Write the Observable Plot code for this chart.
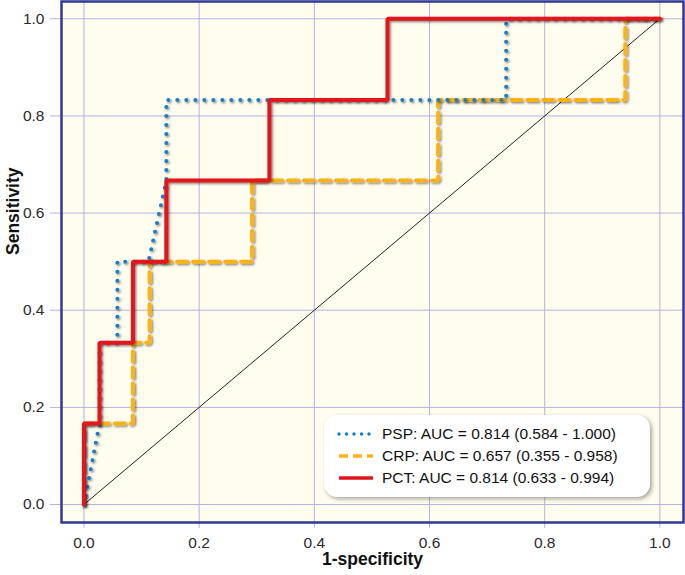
<!DOCTYPE html>
<html>
<head>
<meta charset="utf-8">
<script src="https://cdn.jsdelivr.net/npm/d3@7"></script>
<script src="https://cdn.jsdelivr.net/npm/@observablehq/plot@0.6"></script>
<style>
  html, body { margin: 0; padding: 0; background: #ffffff; }
  #wrap { position: relative; width: 685px; height: 575px; font-family: "Liberation Sans", Arial, sans-serif; }
  #legend {
    position: absolute; left: 324px; top: 415px; width: 326px; height: 82px;
    background: #ffffff; border-radius: 13px; box-shadow: 2px 2px 4px rgba(0,0,0,0.35);
    box-sizing: border-box; padding-top: 8px; padding-left: 13px;
  }
  .row { display: flex; align-items: center; height: 22px; font-size: 15.5px; color: #111; }
  .row svg { margin-right: 8px; }
</style>
</head>
<body>
<div id="wrap"></div>
<script>
// ---- data ----
const pspX = [0, 0.027, 0.027, 0.058, 0.058, 0.112, 0.143, 0.143, 0.733, 0.733, 1];
const pspY = [0, 0.167, 0.333, 0.333, 0.5, 0.5, 0.667, 0.833, 0.833, 1, 1];
const crpX = [0, 0, 0.085, 0.085, 0.114, 0.114, 0.292, 0.292, 0.615, 0.615, 0.94, 0.94, 1];
const crpY = [0, 0.167, 0.167, 0.333, 0.333, 0.5, 0.5, 0.667, 0.667, 0.833, 0.833, 1, 1];
const pctX = [0, 0, 0.027, 0.027, 0.085, 0.085, 0.143, 0.143, 0.322, 0.322, 0.527, 0.527, 1];
const pctY = [0, 0.167, 0.167, 0.333, 0.333, 0.5, 0.5, 0.667, 0.667, 0.833, 0.833, 1, 1];
const diagX = [0, 1];
const diagY = [0, 1];
const ticks = [0, 0.2, 0.4, 0.6, 0.8, 1.0];
const seriesNames = ["PSP", "CRP", "PCT"];
const legendLabels = [
  "PSP: AUC = 0.814 (0.584 - 1.000)",
  "CRP: AUC = 0.657 (0.355 - 0.958)",
  "PCT: AUC = 0.814 (0.633 - 0.994)"
];
const xTitle = "1-specificity";
const yTitle = "Sensitivity";

const colors = { PSP: "#1b7cc6", CRP: "#fbb216", PCT: "#e2121c" };
const toPts = (xs, ys) => xs.map((x, i) => ({ x, y: ys[i] }));
const psp = toPts(pspX, pspY), crp = toPts(crpX, crpY), pct = toPts(pctX, pctY);
const diag = toPts(diagX, diagY);

const chart = Plot.plot({
  width: 685,
  height: 575,
  marginLeft: 61,
  marginRight: 2,
  marginTop: 1,
  marginBottom: 53,
  style: { fontFamily: '"Liberation Sans", Arial, sans-serif', fontSize: "15px", background: "transparent", overflow: "visible" },
  x: { domain: [-0.039, 1.041] },
  y: { domain: [-0.037, 1.0356] },
  marks: [
    Plot.frame({ fill: "#fffdee", stroke: null }),
    Plot.ruleX(ticks, { stroke: "#b3b3e0", strokeWidth: 1 }),
    Plot.ruleY(ticks, { stroke: "#b3b3e0", strokeWidth: 1 }),
    Plot.axisX(ticks, { tickSize: 6, tickPadding: 8, tickFormat: d3.format(".1f"), stroke: "#b3b3e0", fill: "#2a2a2a", fontSize: 15.5, label: null }),
    Plot.axisY(ticks, { tickSize: 11, tickPadding: 6, tickFormat: d3.format(".1f"), stroke: "#b3b3e0", fill: "#2a2a2a", fontSize: 15.5, label: null }),
    Plot.line(diag, { x: "x", y: "y", stroke: "#222", strokeWidth: 1 }),
    Plot.line(crp, { x: "x", y: "y", stroke: colors.CRP, strokeWidth: 4, strokeDasharray: "10 6", strokeLinejoin: "miter" }),
    Plot.line(psp, { x: "x", y: "y", stroke: colors.PSP, strokeWidth: 4, strokeDasharray: "0 9", strokeLinecap: "round" }),
    Plot.line(pct, { x: "x", y: "y", stroke: colors.PCT, strokeWidth: 4, strokeLinejoin: "miter" }),
    Plot.frame({ stroke: "#2d3a91", strokeWidth: 2.5 }),
    Plot.text([yTitle], { frameAnchor: "left", rotate: -90, dx: -48, dy: -7, fontWeight: "bold", fontSize: 17.5, fill: "#111" }),
    Plot.text([xTitle], { frameAnchor: "bottom", dy: 42, fontWeight: "bold", fontSize: 17.5, fill: "#111" })
  ]
});

// drop shadow for the curves
const svg = d3.select(chart);
const defs = svg.insert("defs", ":first-child");
const f = defs.append("filter").attr("id", "shadow").attr("x", "-10%").attr("y", "-10%").attr("width", "120%").attr("height", "120%");
f.append("feDropShadow").attr("dx", 1.3).attr("dy", 1.3).attr("stdDeviation", 1.1).attr("flood-color", "#000").attr("flood-opacity", 0.5);
svg.selectAll('g[aria-label="line"]').each(function(d, i) {
  if (i > 0) d3.select(this).attr("filter", "url(#shadow)");
});

const wrap = document.getElementById("wrap");
wrap.appendChild(chart);

// legend
const legend = document.createElement("div");
legend.id = "legend";
const styles = [
  { c: colors.PSP, dash: "0 7.5", cap: "round" },
  { c: colors.CRP, dash: "9 5", cap: "butt" },
  { c: colors.PCT, dash: null, cap: "butt" }
];
seriesNames.forEach((n, i) => {
  const row = document.createElement("div");
  row.className = "row";
  const s = styles[i];
  row.innerHTML = `<svg width="37" height="10"><line x1="2" y1="5" x2="36" y2="5" stroke="${s.c}" stroke-width="3.5" ${s.dash ? `stroke-dasharray="${s.dash}"` : ""} stroke-linecap="${s.cap}"/></svg><span>${legendLabels[i]}</span>`;
  legend.appendChild(row);
});
wrap.appendChild(legend);
</script>
</body>
</html>
